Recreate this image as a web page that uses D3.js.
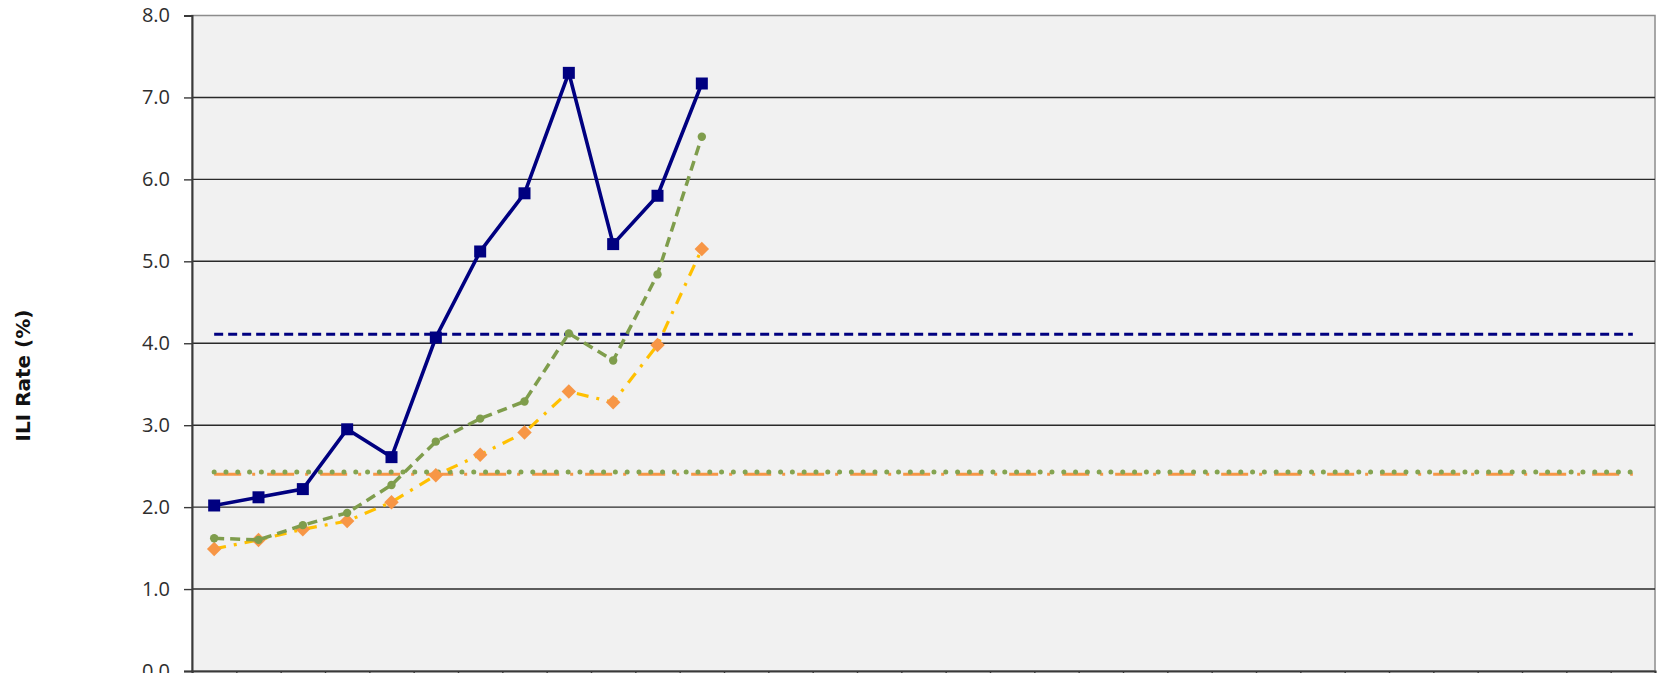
<!DOCTYPE html>
<html>
<head>
<meta charset="utf-8">
<script src="https://cdn.jsdelivr.net/npm/d3@7"></script>
<style>
  html, body { margin: 0; padding: 0; background: #ffffff; }
  svg { display: block; }
</style>
</head>
<body>
<svg id="chart" width="1657" height="673"></svg>
<script>
// Flu season weeks (week 40 through week 20)
const weeks = [40,41,42,43,44,45,46,47,48,49,50,51,52,1,2,3,4,5,6,7,8,9,10,11,12,13,14,15,16,17,18,19,20];

// Observed ILI rate, current season (navy, squares)
const regionRate = [2.02, 2.12, 2.22, 2.95, 2.61, 4.07, 5.12, 5.83, 7.30, 5.21, 5.80, 7.17];
// Comparison series (green dashed, circles)
const stateRate = [1.62, 1.60, 1.78, 1.93, 2.27, 2.80, 3.08, 3.29, 4.12, 3.79, 4.84, 6.52];
// Comparison series (gold dash-dot, orange diamonds)
const nationalRate = [1.49, 1.60, 1.73, 1.83, 2.06, 2.39, 2.64, 2.91, 3.41, 3.28, 3.98, 5.15];

// Baselines (constant across all weeks)
const regionBaseline = 4.11;
const nationalBaseline = 2.40;
const stateBaseline = 2.43;

const yTicks = [0,1,2,3,4,5,6,7,8];
const yTitle = "ILI Rate (%)";

(function () {
const svg = d3.select("#chart");
const pLeft = 192, pRight = 1655, pTop = 15.5, pBottom = 671;

const x = d3.scaleLinear().domain([0, weeks.length]).range([pLeft, pRight]);
const y = d3.scaleLinear().domain([0, 8]).range([pBottom, pTop]);
const cx = i => x(i + 0.5);

// plot background
svg.append("rect")
  .attr("x", pLeft).attr("y", pTop)
  .attr("width", pRight - pLeft).attr("height", pBottom - pTop)
  .attr("fill", "#f1f1f1")
  .attr("stroke", "#8c8c8c").attr("stroke-width", 1.5);

// gridlines
svg.append("g")
  .selectAll("line").data(yTicks.filter(d => d > 0 && d < 8)).join("line")
  .attr("x1", pLeft).attr("x2", pRight)
  .attr("y1", d => y(d)).attr("y2", d => y(d))
  .attr("stroke", "#2a2a2a").attr("stroke-width", 1.4);

// y axis
const yAxis = svg.append("g")
  .attr("transform", `translate(${pLeft},0)`)
  .call(d3.axisLeft(y).tickValues(yTicks).tickFormat(d3.format(".1f")).tickSize(8).tickPadding(14));
yAxis.select(".domain").attr("stroke", "#3a3a3a").attr("stroke-width", 2);
yAxis.selectAll(".tick line").attr("stroke", "#3a3a3a").attr("stroke-width", 1.4);
yAxis.selectAll("text")
  .attr("font-family", "'Open Sans', 'Noto Sans', sans-serif")
  .attr("font-size", 20).attr("fill", "#2e2e2e");

// x axis (labels fall outside the visible area)
const xAxis = svg.append("g")
  .attr("transform", `translate(0,${pBottom})`)
  .call(d3.axisBottom(x).tickValues(d3.range(0, weeks.length + 1)).tickFormat("").tickSize(8));
xAxis.select(".domain").attr("stroke", "#3a3a3a").attr("stroke-width", 2);
xAxis.selectAll(".tick line").attr("stroke", "#3a3a3a").attr("stroke-width", 1.4);

// y title
svg.append("text")
  .attr("transform", "translate(30,375.5) rotate(-90)")
  .attr("text-anchor", "middle")
  .attr("font-family", "'DejaVu Sans', sans-serif")
  .attr("font-weight", "bold")
  .attr("font-size", 20)
  .attr("fill", "#111")
  .text(yTitle);

const flat = v => weeks.map(() => v);
const line = d3.line().x((d, i) => cx(i)).y(d => y(d));

// baselines
svg.append("path").datum(flat(nationalBaseline))
  .attr("d", line).attr("fill", "none")
  .attr("stroke", "#f79646").attr("stroke-width", 3)
  .attr("stroke-dasharray", "27,11,3,12");
svg.append("path").datum(flat(stateBaseline))
  .attr("d", line).attr("fill", "none")
  .attr("stroke", "#84a451").attr("stroke-width", 5)
  .attr("stroke-linecap", "round")
  .attr("stroke-dasharray", "0,11.8");
svg.append("path").datum(flat(regionBaseline))
  .attr("d", line).attr("fill", "none")
  .attr("stroke", "#000080").attr("stroke-width", 3.2)
  .attr("stroke-dasharray", "9,5");

// national series
svg.append("path").datum(nationalRate)
  .attr("d", line).attr("fill", "none")
  .attr("stroke", "#ffc000").attr("stroke-width", 3.2)
  .attr("stroke-dasharray", "12,8,3,8");
svg.append("g").selectAll("path").data(nationalRate).join("path")
  .attr("d", d3.symbol().type(d3.symbolSquare).size(105))
  .attr("transform", (d, i) => `translate(${cx(i)},${y(d)}) rotate(45)`)
  .attr("fill", "#f79646");

// state series
svg.append("path").datum(stateRate)
  .attr("d", line).attr("fill", "none")
  .attr("stroke", "#7f9d4c").attr("stroke-width", 3.5)
  .attr("stroke-dasharray", "10,6");
svg.append("g").selectAll("circle").data(stateRate).join("circle")
  .attr("cx", (d, i) => cx(i)).attr("cy", d => y(d)).attr("r", 4.2)
  .attr("fill", "#7f9d4c");

// region series
svg.append("path").datum(regionRate)
  .attr("d", line).attr("fill", "none")
  .attr("stroke", "#000080").attr("stroke-width", 3.6);
svg.append("g").selectAll("rect").data(regionRate).join("rect")
  .attr("x", (d, i) => cx(i) - 6).attr("y", d => y(d) - 6)
  .attr("width", 12).attr("height", 12)
  .attr("fill", "#000080");
})();
</script>
</body>
</html>
